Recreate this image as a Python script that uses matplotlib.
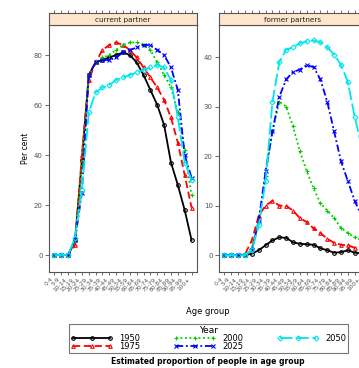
import numpy as np
import matplotlib
matplotlib.use("Agg")
import matplotlib.pyplot as plt
from matplotlib.lines import Line2D

# age groups on the x axis
age_groups = ["0-4", "5-9", "10-14", "15-19", "20-24", "25-29", "30-34",
              "35-39", "40-44", "45-49", "50-54", "55-59", "60-64", "65-69",
              "70-74", "75-79", "80-84", "85-89", "90-94", "95-99", "100+"]
years = ["1950", "1975", "2000", "2025", "2050"]

# per cent with a current partner
cur_1950 = [0, 0, 0, 6, 38, 72, 77, 78, 79, 80, 81, 80, 77, 72, 66, 60, 52, 37, 28, 18, 6]
cur_1975 = [0, 0, 0, 4, 40, 70, 77, 82, 84, 85, 84, 82, 79, 75, 71, 67, 62, 55, 45, 32, 19]
cur_2000 = [0, 0, 0, 6, 36, 72, 77, 79, 80, 82, 84, 85, 85, 84, 82, 77, 72, 67, 57, 42, 24]
cur_2025 = [0, 0, 0, 6, 25, 72, 77, 78, 78, 79, 81, 82, 83, 84, 84, 82, 80, 75, 66, 40, 31]
cur_2050 = [0, 0, 0, 7, 26, 57, 65, 67, 68, 70, 71, 72, 73, 74, 75, 76, 75, 70, 55, 37, 30]

# per cent with former partners
frm_1950 = [0, 0, 0, 0, 0.3, 1.0, 2.0, 3.0, 3.6, 3.5, 2.6, 2.3, 2.2, 2.1, 1.4, 1.0, 0.5, 0.6, 1.0, 0.5, 0.4]
frm_1975 = [0, 0, 0, 0.2, 3, 8, 10, 11, 10, 10, 9, 7.5, 6.7, 5.4, 4.5, 3.3, 2.5, 2.1, 2.0, 1.5, 1.2]
frm_2000 = [0, 0, 0, 0, 1.5, 7, 16, 25, 31, 30, 26, 21, 17, 13.5, 10.5, 9, 7.5, 5.5, 4.5, 3.6, 3]
frm_2025 = [0, 0, 0, 0, 1, 7, 17, 25, 32, 35.5, 37, 37.5, 38.4, 38, 35.5, 31, 25, 19, 15, 11, 8]
frm_2050 = [0, 0, 0, 0, 1, 6, 15, 31, 39, 41.5, 42, 42.8, 43.2, 43.4, 43, 42, 40.5, 38.5, 35, 28, 22]

colors = ["#000000", "#FF0000", "#00CD00", "#0000FF", "#00E5EE"]
styles = ["-", (0, (4, 2)), (0, (1, 1.5)), (0, (4, 1.5, 1, 1.5)), (0, (7, 2))]
markers = ["o", "^", "+", "x", "D"]

W, H = 359, 368
fig = plt.figure(figsize=(W / 100, H / 100), dpi=100)

x = np.arange(len(age_groups))
panels = [
    ("current partner", [cur_1950, cur_1975, cur_2000, cur_2025, cur_2050],
     49, (-6.8, 92), [0, 20, 40, 60, 80]),
    ("former partners", [frm_1950, frm_1975, frm_2000, frm_2025, frm_2050],
     219, (-3.4, 46.5), [0, 10, 20, 30, 40]),
]
frame_col = "#555555"
axs = []
for title, series, left_px, ylim, yticks in panels:
    ax = fig.add_axes([left_px / W, 96 / H, 148 / W, 247 / H])
    for vals, c, ls, mk in zip(series, colors, styles, markers):
        ax.plot(x, vals, color=c, linestyle=ls, lw=1.3, marker=mk, ms=2.6,
                mew=0.8, mfc="none")
    ax.set_xlim(-0.8, len(age_groups) - 0.2)
    ax.set_ylim(*ylim)
    ax.set_yticks(yticks)
    ax.set_xticks(x)
    ax.set_xticklabels(age_groups, rotation=45, ha="right", fontsize=4.2,
                       color="#666666")
    ax.tick_params(axis="y", labelsize=5, colors=frame_col, length=3,
                   width=0.6, pad=1.5)
    ax.tick_params(axis="x", colors=frame_col, length=2.5, width=0.6, pad=1)
    for sp in ax.spines.values():
        sp.set_color(frame_col)
        sp.set_linewidth(0.8)

    st = fig.add_axes([left_px / W, 343 / H, 148 / W, 12 / H])
    st.set_facecolor("#FFE5CC")
    st.set_xlim(ax.get_xlim())
    st.set_xticks(x)
    st.set_yticks([])
    st.xaxis.tick_top()
    st.tick_params(axis="x", labeltop=False, colors=frame_col, length=2.5,
                   width=0.6)
    for sp in st.spines.values():
        sp.set_color(frame_col)
        sp.set_linewidth(0.8)
    st.text(0.5, 0.45, title, transform=st.transAxes, ha="center",
            va="center", fontsize=5.2, color="#222222")
    axs.append(ax)

axs[0].set_ylabel("Per cent", fontsize=5.5, labelpad=3)

fig.text(208 / W, 1 - 311 / H, "Age group", ha="center", va="center",
         fontsize=6)

handles = [Line2D([], [], color=c, linestyle=ls, lw=1.3, marker=mk, ms=2.6,
                  mew=0.8, mfc="none")
           for c, ls, mk in zip(colors, styles, markers)]
leg = fig.legend(handles, years, ncol=3, mode="expand", loc="lower left",
                 bbox_to_anchor=(69 / W, 1 - 353 / H, 279 / W, 36 / H),
                 title="Year", title_fontsize=6.5, fontsize=6,
                 handlelength=5, numpoints=3, frameon=True, fancybox=False,
                 borderpad=0.2, labelspacing=-0.1, handletextpad=0.8,
                 borderaxespad=0)
leg.get_frame().set_edgecolor("#555555")
leg.get_frame().set_linewidth(0.8)

fig.text(208 / W, 1 - 361 / H, "Estimated proportion of people in age group",
         ha="center", va="center", fontsize=5.5, fontweight="bold")

fig.savefig("out.png", dpi=100)
